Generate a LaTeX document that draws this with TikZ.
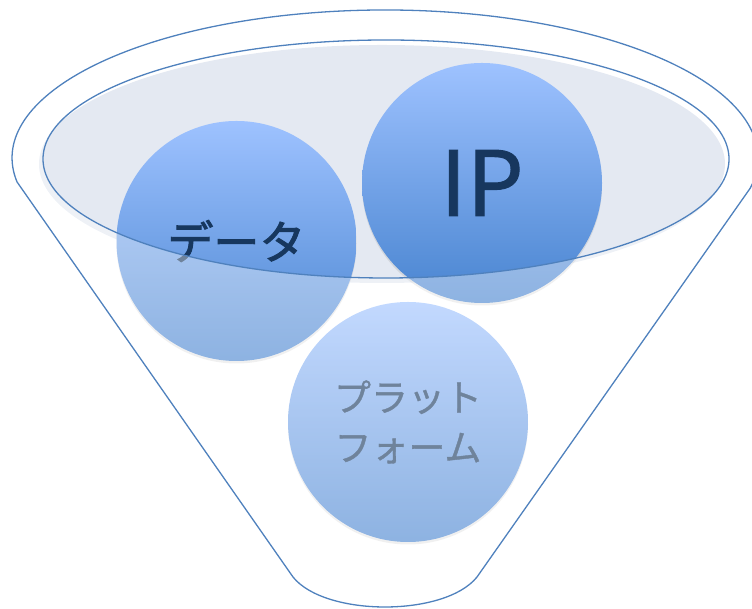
\documentclass[tikz,border=0pt]{standalone}
\usepackage{fontspec}
\newfontfamily\jpfont{Noto Sans CJK JP}
\newfontfamily\jpheavy[FakeBold=2]{Noto Sans CJK JP}
\newfontfamily\jpmid[FakeBold=1]{Noto Sans CJK JP}
\usetikzlibrary{shadows}
\definecolor{rimblue}{RGB}{79,129,189}
\definecolor{ballhi}{RGB}{158,194,255}
\definecolor{balllo}{RGB}{72,132,208}
\definecolor{mouthfill}{RGB}{228,233,242}
\definecolor{labelnavy}{RGB}{23,55,94}
\tikzset{
  ball/.style={circle, minimum size=240pt, inner sep=0pt, top color=ballhi, bottom color=balllo,
    text=labelnavy, align=center, drop shadow={shadow xshift=0pt, shadow yshift=-2.5pt, opacity=0.18}},
  rim/.style={rimblue, line width=1.3pt}
}

\begin{document}
\begin{tikzpicture}[x=1pt, y=1pt]
				\newcommand{\funnelpath}{(17,427.1) arc[start angle=189.3, end angle=-11.8, x radius=373pt, y radius=148pt]
					-- (477,32) .. controls (445,-8) and (325,-8) .. (293,32) -- cycle}
				\useasboundingbox (0,0) rectangle (752,609);
				
				% mouth of the funnel
				\fill[mouthfill] (382,445) ellipse[x radius=343pt, y radius=119pt];
				
				\node[ball, font=\jpheavy\fontsize{46}{46}\selectfont] (data) at (236.5,368) {データ};
				\node[ball, font=\jpmid\fontsize{90}{90}\selectfont] (ip) at (482,426) {IP};
				\node[ball, font=\jpmid\fontsize{37}{50}\selectfont] (plat) at (408,187) {プラット\\フォーム};
				
				% funnel wall seen through
				\fill[white, fill opacity=0.38, even odd rule] \funnelpath (386,450) ellipse[x radius=343pt, y radius=119pt];
				
				\draw[rim] \funnelpath;
				\draw[rim] (386,450) ellipse[x radius=343pt, y radius=119pt];
				
			\end{tikzpicture}
\end{document}
